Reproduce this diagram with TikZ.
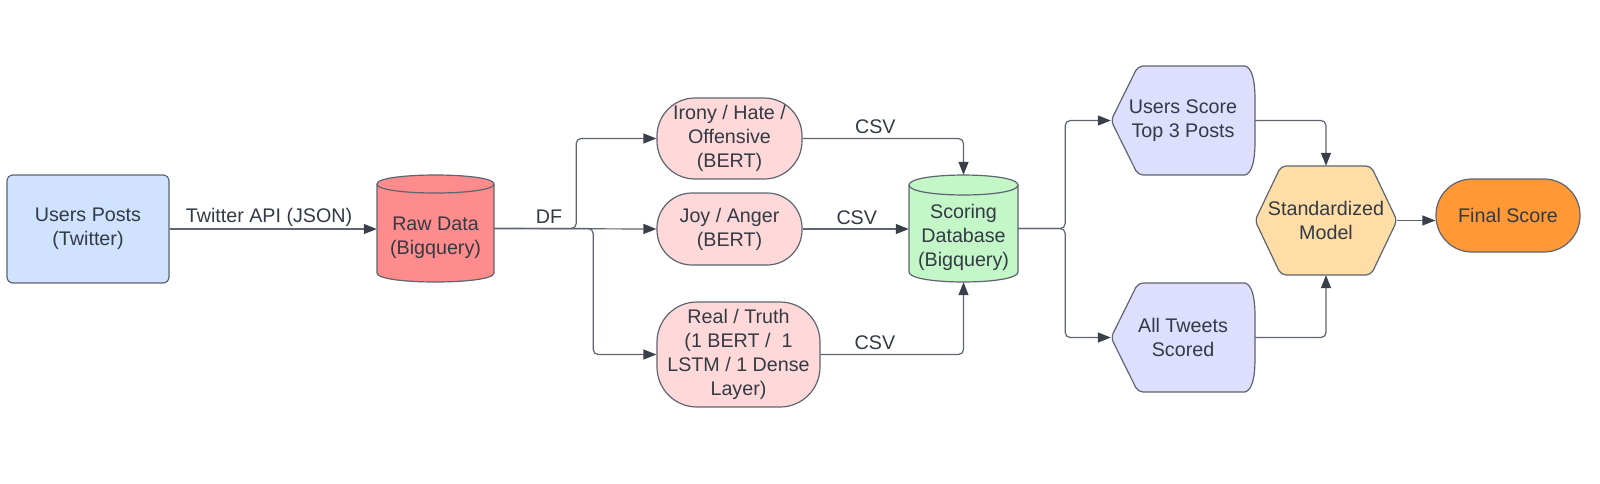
\documentclass[tikz,border=0pt]{standalone}
\usepackage{fontspec}
\setmainfont{Liberation Sans}
\usetikzlibrary{arrows.meta,calc}
\pgfdeclarelayer{background}
\pgfdeclarelayer{canvas}
\pgfsetlayers{canvas,background,main}
\definecolor{strk}{HTML}{5E6470}
\definecolor{arrowc}{HTML}{3A4049}
\definecolor{txt}{HTML}{333A44}
\definecolor{cblue}{HTML}{CFE2FF}
\definecolor{cred}{HTML}{FF8C8C}
\definecolor{cpink}{HTML}{FFD9D9}
\definecolor{cgreen}{HTML}{C3F7C8}
\definecolor{clav}{HTML}{DEDEFF}
\definecolor{chex}{HTML}{FFDDA6}
\definecolor{corange}{HTML}{FF9835}
\newcommand{\diagfont}{\fontsize{19.7}{24}\selectfont}
\begin{document}
\begin{tikzpicture}[x=1pt,y=-1pt,
  box/.style={inner sep=0pt, align=center, text=txt, font=\diagfont},
  shp/.style={draw=strk, line width=1.2pt},
  conn/.style={draw=strk, line width=1.2pt, rounded corners=5pt,
    -{Triangle[length=13pt,width=10pt,fill=arrowc,color=arrowc]}},
  lbl/.style={inner sep=0pt, text=txt, font=\diagfont}
]
\useasboundingbox (0,0) rectangle (1600,483);
\begin{pgfonlayer}{canvas}
\fill[white] (0,0) rectangle (1600,483);
\end{pgfonlayer}

% nodes
\node[box, shp, fill=cblue, rounded corners=6pt, minimum width=162pt, minimum height=108pt] (up) at (88,229) {Users Posts\\(Twitter)};
\node[box, minimum width=117pt, minimum height=107pt] (rd) at (435.5,228.5) {};
\node[box] (rdt) at (435.5,237.5) {Raw Data\\(Bigquery)};
\node[box, shp, fill=cpink, rounded corners=38pt, minimum width=145pt, minimum height=81pt] (ir) at (729.5,138.5) {Irony / Hate /\\Offensive\\(BERT)};
\node[box, shp, fill=cpink, rounded corners=35pt, minimum width=145pt, minimum height=72pt] (jy) at (729.5,229) {Joy / Anger\\(BERT)};
\node[box, shp, fill=cpink, rounded corners=40pt, minimum width=163pt, minimum height=105pt] (rl) at (738.5,354.5) {Real / Truth\\(1 BERT /~ 1\\LSTM / 1 Dense\\Layer)};
\node[box, minimum width=109pt, minimum height=107pt] (db) at (963.5,228.5) {};
\node[box] (dbt) at (963.5,237) {Scoring\\Database\\(Bigquery)};
\node[box, minimum width=144pt, minimum height=109pt] (us) at (1183,120.5) {Users Score\\Top 3 Posts};
\node[box, minimum width=144pt, minimum height=109pt] (at) at (1183,337.5) {All Tweets\\Scored};
\node[box, minimum width=142pt, minimum height=109pt] (hx) at (1326,220.5) {Standardized\\Model};
\node[box, shp, fill=corange, rounded corners=36pt, minimum width=144pt, minimum height=73pt] (fs) at (1508,215.5) {Final Score};

% custom shapes
\begin{pgfonlayer}{background}
\path[shp, fill=cred] (377,184) -- (377,273) .. controls (377,285) and (494,285) .. (494,273)
  -- (494,184) .. controls (494,172) and (377,172) .. (377,184) -- cycle;
\draw[shp] (377,184) .. controls (377,196) and (494,196) .. (494,184);
\path[shp, fill=cgreen] (909,185) -- (909,272) .. controls (909,285.3) and (1018,285.3) .. (1018,272)
  -- (1018,185) .. controls (1018,171.7) and (909,171.7) .. (909,185) -- cycle;
\draw[shp] (909,185) .. controls (909,198.3) and (1018,198.3) .. (1018,185);
\path[shp, fill=clav, rounded corners=5pt] (1111,120.5) -- (1138,66) [sharp corners] -- (1245,66)
  .. controls (1252,68) and (1255,80) .. (1255,100) -- (1255,141)
  .. controls (1255,161) and (1252,173) .. (1245,175) [rounded corners=5pt] -- (1138,175) -- cycle;
\path[shp, fill=clav, rounded corners=5pt] (1111,337.5) -- (1138,283) [sharp corners] -- (1245,283)
  .. controls (1252,285) and (1255,297) .. (1255,317) -- (1255,358)
  .. controls (1255,378) and (1252,390) .. (1245,392) [rounded corners=5pt] -- (1138,392) -- cycle;
\path[shp, fill=chex, rounded corners=5pt] (1255,220.5) -- (1281,166) -- (1371,166) -- (1397,220.5)
  -- (1371,275) -- (1281,275) -- cycle;
\end{pgfonlayer}

% connectors
\draw[conn] (up.east) -- node[lbl, pos=0.48, above=1.5pt] {Twitter API (JSON)} (up.east -| rd.west);
\draw[conn] (rd.east) -- ++(82,0) |- (ir.west);
\draw[conn] (rd.east) -- (jy.west);
\draw[conn] (rd.east) -- ++(99,0) |- (rl.west);
\node[lbl] (df) at (549,217) {DF};
\draw[conn] (ir.east) -| node[lbl, pos=0.226, above=4pt] {CSV} (db.north);
\draw[conn] (jy.east) -- node[lbl, pos=0.51, above=4pt] {CSV} (jy.east -| db.west);
\draw[conn] (rl.east) -| node[lbl, pos=0.19, above=4pt] {CSV} (db.south);
\draw[conn] (db.east) -- ++(47,0) |- (us.west);
\draw[conn] (db.east) -- ++(47,0) |- (at.west);
\draw[conn] (us.east) -| (hx.north);
\draw[conn] (at.east) -| (hx.south);
\draw[conn] (hx.east) -- (hx.east -| fs.west);
\end{tikzpicture}
\end{document}
